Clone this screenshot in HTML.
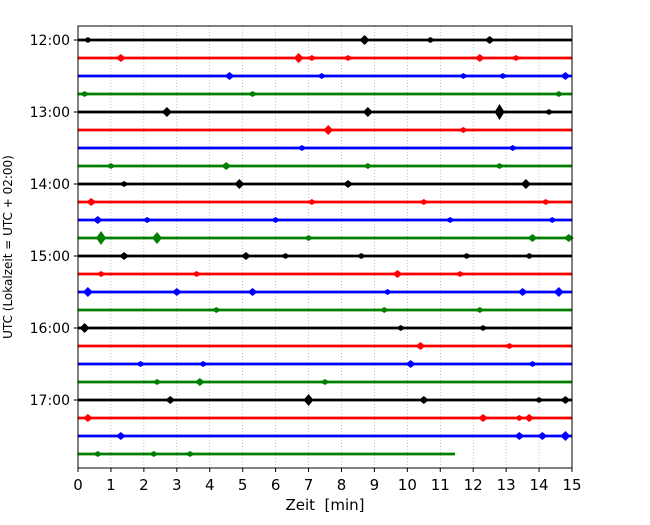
<!DOCTYPE html>
<html><head><meta charset="utf-8"><style>
body{margin:0;background:#fff}
svg text{font-family:"DejaVu Sans","Liberation Sans",sans-serif}
</style></head><body>
<svg id="chart" width="650" height="520">
<rect width="650" height="520" fill="#fff"/>
<g id="grid"></g><g id="traces"></g><g id="axes"></g>
</svg>
<script>
const rowCount = 24;
const rowLabels = ["12:00","13:00","14:00","15:00","16:00","17:00"];
const xTicks = [0,1,2,3,4,5,6,7,8,9,10,11,12,13,14,15];
const lastRowEnd = 11.45;
const colors = ["black","red","blue","green"];
const events = [
[[0.3,3],[8.7,5],[10.7,3],[12.5,4]],
[[1.3,4],[6.7,5],[7.1,3],[8.2,3],[12.2,4],[13.3,3]],
[[4.6,4],[7.4,3],[11.7,3],[12.9,3],[14.8,4]],
[[0.2,3],[5.3,3],[14.6,3]],
[[2.7,5],[8.8,5],[12.8,8],[14.3,3]],
[[7.6,5],[11.7,3]],
[[6.8,3],[13.2,3]],
[[1.0,3],[4.5,4],[8.8,3],[12.8,3]],
[[1.4,3],[4.9,5],[8.2,4],[13.6,5]],
[[0.4,4],[7.1,3],[10.5,3],[14.2,3]],
[[0.6,4],[2.1,3],[6.0,3],[11.3,3],[14.4,3]],
[[0.7,7],[2.4,6],[7.0,3],[13.8,4],[14.9,4]],
[[1.4,4],[5.1,4],[6.3,3],[8.6,3],[11.8,3],[13.7,3]],
[[0.7,3],[3.6,3],[9.7,4],[11.6,3]],
[[0.3,5],[3.0,4],[5.3,4],[9.4,3],[13.5,4],[14.6,5]],
[[4.2,3],[9.3,3],[12.2,3]],
[[0.2,5],[9.8,3],[12.3,3]],
[[10.4,4],[13.1,3]],
[[1.9,3],[3.8,3],[10.1,4],[13.8,3]],
[[2.4,3],[3.7,4],[7.5,3]],
[[2.8,4],[7.0,6],[10.5,4],[14.0,3],[14.8,4]],
[[0.3,4],[12.3,4],[13.4,3],[13.7,4]],
[[1.3,4],[13.4,4],[14.1,4],[14.8,5]],
[[0.6,3],[2.3,3],[3.4,3]]
];
const L=78,R=572,T=26,B=468;
const xs=m=>L+m*(R-L)/15;
const ys=r=>40+r*18;
const NS="http://www.w3.org/2000/svg";
function mk(tag,attrs,parent,txt){const e=document.createElementNS(NS,tag);for(const k in attrs)e.setAttribute(k,attrs[k]);if(txt!==undefined)e.textContent=txt;parent.appendChild(e);return e;}
const grid=document.getElementById('grid'),tr=document.getElementById('traces'),ax=document.getElementById('axes');
xTicks.slice(1,-1).forEach(t=>{const l=mk('line',{x1:xs(t),x2:xs(t),y1:T,y2:B,stroke:'#999','stroke-width':0.6,'stroke-dasharray':'1,2'},grid);

});
for(let r=0;r<rowCount;r++){
  const c=colors[r%4],y=ys(r),end=r===rowCount-1?lastRowEnd:15;
  const g=mk('g',{},tr);
  
  
  mk('line',{x1:xs(0),x2:xs(end),y1:y,y2:y,stroke:c,'stroke-width':2.8},g);
  events[r].forEach(([m,h])=>{const x=xs(m);
    const p=mk('polygon',{points:`${x-5},${y} ${x},${y-h} ${x+5},${y} ${x},${y+h}`,fill:c},g);
    
    });
}
const fr=mk('rect',{x:L,y:T,width:R-L,height:B-T,fill:'none',stroke:'#000','stroke-width':1},ax);


xTicks.forEach(t=>{mk('line',{x1:xs(t),x2:xs(t),y1:B,y2:B+4,stroke:'#000'},ax);
  const tx=mk('text',{x:xs(t),y:490,'font-size':15,'text-anchor':'middle'},ax,String(t));
  
  });
rowLabels.forEach((s,i)=>{const y=ys(i*4);mk('line',{x1:L-4,x2:L,y1:y,y2:y,stroke:'#000'},ax);
  const tx=mk('text',{x:70,y:y+5,'font-size':14,'text-anchor':'end'},ax,s);
  
  });
const xt=mk('text',{x:325,y:510,'font-size':15,'text-anchor':'middle'},ax,'Zeit\u00a0\u00a0[min]');


const yt=mk('text',{x:0,y:0,'font-size':12,'text-anchor':'middle',transform:'translate(12,247) rotate(-90)'},ax,'UTC (Lokalzeit = UTC + 02:00)');


</script>
</body></html>
